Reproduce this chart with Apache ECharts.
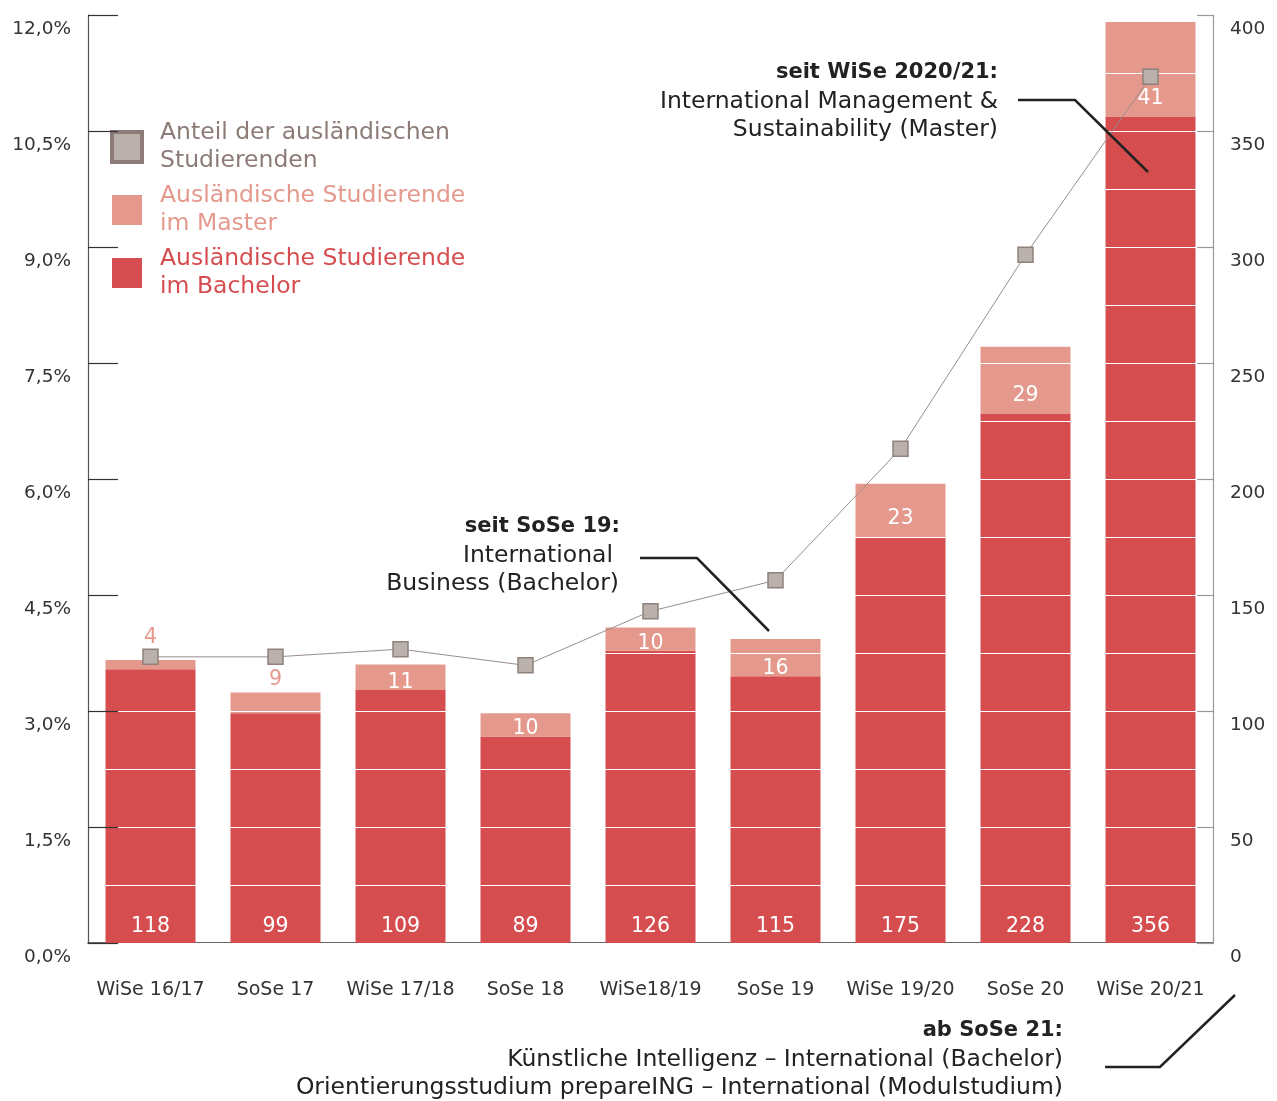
<!DOCTYPE html>
<html>
<head>
<meta charset="utf-8">
<script src="https://cdn.jsdelivr.net/npm/echarts@6/dist/echarts.min.js"></script>
<style>html,body{margin:0;padding:0;background:#fff}#c{width:1277px;height:1101px}</style>
</head>
<body>
<div id="c"></div>
<script>
const categories = ['WiSe 16/17','SoSe 17','WiSe 17/18','SoSe 18','WiSe18/19','SoSe 19','WiSe 19/20','SoSe 20','WiSe 20/21'];
const bachelor = [118, 99, 109, 89, 126, 115, 175, 228, 356];
const master = [4, 9, 11, 10, 10, 16, 23, 29, 41];
const share = [3.70, 3.70, 3.80, 3.59, 4.29, 4.69, 6.39, 8.90, 11.20];
const nameShare = 'Anteil der ausländischen\nStudierenden';
const nameMaster = 'Ausländische Studierende\nim Master';
const nameBachelor = 'Ausländische Studierende\nim Bachelor';

const FONT = 'DejaVu Sans';
const RED = '#d64d4f', SALMON = '#e5998d', GREY = '#8c7b77';

const masterData = master.map(v => {
  let label;
  if (v < 5) label = {position: 'top', distance: 12, color: SALMON};
  else if (v < 10) label = {position: 'top', distance: 2, color: SALMON};
  else if (v >= 20) label = {position: 'insideBottom', distance: 8, color: '#fff'};
  else label = {position: 'insideBottom', distance: 0, offset: [0, 3], color: '#fff'};
  return {value: v, label: label};
});

const reg = '23.5px "' + FONT + '"';
const bold = 'bold 21px "' + FONT + '"';

const chart = echarts.init(document.getElementById('c'));
chart.setOption({
  backgroundColor: '#fff',
  animation: false,
  textStyle: {fontFamily: FONT},
  grid: {left: 88, right: 64, top: 15, height: 928},
  legend: {
    orient: 'vertical', left: 105, top: 114,
    itemWidth: 30, itemHeight: 30, itemGap: 7,
    textStyle: {fontFamily: FONT, fontSize: 23.5, lineHeight: 28, padding: [0,0,0,13]},
    data: [
      {name: nameShare, icon: 'rect', itemStyle: {color: '#bab0ac', borderColor: GREY, borderWidth: 4}, textStyle: {color: GREY}},
      {name: nameMaster, icon: 'rect', itemStyle: {color: SALMON}, textStyle: {color: SALMON}},
      {name: nameBachelor, icon: 'rect', itemStyle: {color: RED}, textStyle: {color: RED}}
    ]
  },
  xAxis: {
    type: 'category', data: categories,
    axisLine: {lineStyle: {color: '#333', width: 1.5}},
    axisTick: {inside: true, length: 20, lineStyle: {color: '#777', width: 1.2}},
    axisLabel: {color: '#333', fontSize: 19, margin: 38, fontFamily: FONT, interval: 0, hideOverlap: false}
  },
  yAxis: [
    {
      type: 'value', min: 0, max: 12, interval: 1.5, position: 'left', z: 5,
      axisLine: {show: true, lineStyle: {color: '#555', width: 1.2}},
      axisTick: {show: true, inside: true, length: 30, lineStyle: {color: '#333', width: 1.2}},
      splitLine: {show: false},
      axisLabel: {color: '#333', fontSize: 18.5, margin: 17, verticalAlign: 'top', padding: [5,0,0,0],
        formatter: v => v.toFixed(1).replace('.', ',') + '%'}
    },
    {
      type: 'value', min: 0, max: 400, interval: 50, position: 'right', z: 5,
      axisLine: {show: true, lineStyle: {color: '#999', width: 1.2}},
      axisTick: {show: true, inside: true, length: 16, lineStyle: {color: '#999', width: 1.2}},
      splitLine: {show: false},
      axisLabel: {color: '#333', fontSize: 18.5, margin: 17, verticalAlign: 'top', padding: [5,0,0,0]}
    },
    {
      type: 'value', min: 0, max: 400, interval: 25, position: 'right', z: 3,
      axisLine: {show: false}, axisTick: {show: false}, axisLabel: {show: false},
      splitLine: {show: true, lineStyle: {color: '#fff', width: 1.2}}
    }
  ],
  series: [
    {
      name: nameBachelor, type: 'bar', stack: 'a', yAxisIndex: 1, barWidth: 90, z: 2,
      itemStyle: {color: RED}, data: bachelor,
      label: {show: true, position: 'insideBottom', distance: 6, color: '#fff', fontSize: 20.5, fontFamily: FONT}
    },
    {
      name: nameMaster, type: 'bar', stack: 'a', yAxisIndex: 1, barWidth: 90, z: 2,
      itemStyle: {color: SALMON}, data: masterData,
      label: {show: true, fontSize: 20.5, fontFamily: FONT}
    },
    {
      name: nameShare, type: 'line', yAxisIndex: 0, z: 10, data: share,
      symbol: 'rect', symbolSize: 15,
      itemStyle: {color: '#bab0ac', borderColor: '#8f817c', borderWidth: 1.5},
      lineStyle: {color: '#9a8e8a', width: 1}
    }
  ],
  graphic: [
    {type: 'text', z: 100, style: {text: 'seit WiSe 2020/21:', x: 998, y: 73, textAlign: 'right', textVerticalAlign: 'middle', font: bold, fill: '#222'}},
    {type: 'text', z: 100, style: {text: 'International Management &', x: 998, y: 102, textAlign: 'right', textVerticalAlign: 'middle', font: reg, fill: '#222'}},
    {type: 'text', z: 100, style: {text: 'Sustainability (Master)', x: 998, y: 130, textAlign: 'right', textVerticalAlign: 'middle', font: reg, fill: '#222'}},
    {type: 'polyline', z: 100, shape: {points: [[1018,100],[1075,100],[1148,172]]}, style: {stroke: '#222', lineWidth: 2.5, fill: null}},

    {type: 'text', z: 100, style: {text: 'seit SoSe 19:', x: 620, y: 527, textAlign: 'right', textVerticalAlign: 'middle', font: bold, fill: '#222'}},
    {type: 'text', z: 100, style: {text: 'International', x: 613, y: 556, textAlign: 'right', textVerticalAlign: 'middle', font: reg, fill: '#222'}},
    {type: 'text', z: 100, style: {text: 'Business (Bachelor)', x: 619, y: 584, textAlign: 'right', textVerticalAlign: 'middle', font: reg, fill: '#222'}},
    {type: 'polyline', z: 100, shape: {points: [[640,558],[697,558],[769,631]]}, style: {stroke: '#222', lineWidth: 2.5, fill: null}},

    {type: 'text', z: 100, style: {text: 'ab SoSe 21:', x: 1063, y: 1031, textAlign: 'right', textVerticalAlign: 'middle', font: bold, fill: '#222'}},
    {type: 'text', z: 100, style: {text: 'Künstliche Intelligenz – International (Bachelor)', x: 1063, y: 1060, textAlign: 'right', textVerticalAlign: 'middle', font: reg, fill: '#222'}},
    {type: 'text', z: 100, style: {text: 'Orientierungsstudium prepareING – International (Modulstudium)', x: 1063, y: 1088, textAlign: 'right', textVerticalAlign: 'middle', font: reg, fill: '#222'}},
    {type: 'polyline', z: 100, shape: {points: [[1105,1067],[1160,1067],[1235,995]]}, style: {stroke: '#222', lineWidth: 2.5, fill: null}}
  ]
});
</script>
</body>
</html>
